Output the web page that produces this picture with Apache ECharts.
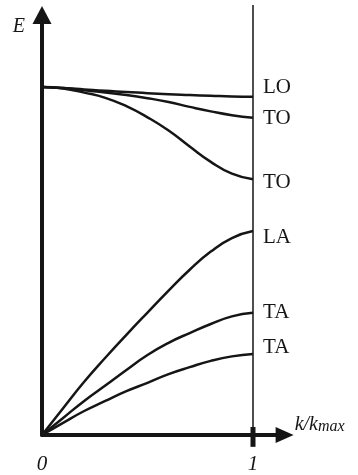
<!DOCTYPE html>
<html>
<head>
<meta charset="utf-8">
<script src="https://cdn.jsdelivr.net/npm/echarts@6/dist/echarts.min.js"></script>
<style>
html,body{margin:0;padding:0;background:#fff;}
#c{width:358px;height:475px;}
</style>
</head>
<body>
<div id="c"></div>
<script>
// k/kmax sample positions
var kValues = [0, 0.1, 0.2, 0.3, 0.4, 0.5, 0.6, 0.7, 0.8, 0.9, 1];
// optical branches (E relative to optical energy at k=0)
var LO  = [1, 0.997, 0.993, 0.989, 0.986, 0.982, 0.979, 0.977, 0.975, 0.973, 0.972];
var TO1 = [1, 0.997, 0.991, 0.984, 0.977, 0.968, 0.957, 0.943, 0.930, 0.919, 0.912];
var TO2 = [1, 0.996, 0.984, 0.969, 0.945, 0.913, 0.875, 0.829, 0.785, 0.751, 0.735];
// acoustic branches
var LA  = [0, 0.077, 0.153, 0.222, 0.288, 0.352, 0.415, 0.475, 0.527, 0.566, 0.586];
var TA1 = [0, 0.049, 0.098, 0.142, 0.187, 0.230, 0.265, 0.293, 0.319, 0.341, 0.351];
var TA2 = [0, 0.035, 0.069, 0.098, 0.126, 0.150, 0.175, 0.195, 0.213, 0.226, 0.233];
var branchNames = ['LO', 'TO', 'TO', 'LA', 'TA', 'TA'];
// zone boundary line and tick
var boundaryK = 1;
var boundaryTop = 1.236;
var tickSpan = [-0.034, 0.023];
var xTickLabels = ['0', '1'];

var branches = [LO, TO1, TO2, LA, TA1, TA2];
var labelDy = [-9, 1, 3, 6, 0, -6];
var serif = '"Liberation Serif", "DejaVu Serif", serif';
var ink = '#151515';

function pairs(ys) {
  return kValues.map(function (k, i) { return [k, ys[i]]; });
}

var series = branches.map(function (ys, i) {
  return {
    type: 'line',
    name: branchNames[i] + i,
    data: pairs(ys),
    smooth: true,
    showSymbol: false,
    symbol: 'none',
    silent: true,
    clip: false,
    lineStyle: { color: ink, width: 2.5 },
    endLabel: {
      show: true,
      formatter: branchNames[i],
      distance: 10,
      offset: [0, labelDy[i]],
      fontFamily: serif,
      fontSize: 21,
      color: ink
    }
  };
});

series.push({
  type: 'line',
  data: [[boundaryK, 0], [boundaryK, boundaryTop]],
  symbol: 'none',
  silent: true,
  clip: false,
  lineStyle: { color: ink, width: 1.5 }
});
series.push({
  type: 'line',
  data: [[boundaryK, tickSpan[0]], [boundaryK, tickSpan[1]]],
  symbol: 'none',
  silent: true,
  clip: false,
  lineStyle: { color: ink, width: 5, cap: 'butt' }
});

var chart = echarts.init(document.getElementById('c'), null, { renderer: 'canvas' });
chart.setOption({
  animation: false,
  backgroundColor: '#fff',
  grid: { left: 42, right: 73.35, top: 15, bottom: 40, containLabel: false },
  xAxis: {
    type: 'value',
    min: 0,
    max: 1.15,
    interval: 1,
    splitLine: { show: false },
    axisTick: { show: false },
    axisLine: {
      show: true,
      onZero: true,
      symbol: ['none', 'triangle'],
      symbolSize: [16, 18],
      lineStyle: { color: ink, width: 4 }
    },
    axisLabel: {
      margin: 19,
      fontFamily: serif,
      fontStyle: 'italic',
      fontSize: 21,
      color: ink,
      showMaxLabel: false,
      formatter: function (v) {
        if (v === 0) return xTickLabels[0];
        if (v === 1) return xTickLabels[1];
        return '';
      }
    },
    name: '{k|k/k}{s|max}',
    nameLocation: 'end',
    nameGap: 10,
    nameTextStyle: {
      verticalAlign: 'bottom',
      align: 'left',
      rich: {
        k: { fontFamily: serif, fontStyle: 'italic', fontSize: 20, lineHeight: 20, color: ink, padding: [0, 0, 5, 0], verticalAlign: 'top' },
        s: { fontFamily: serif, fontStyle: 'italic', fontSize: 16, lineHeight: 16, color: ink, verticalAlign: 'bottom' }
      }
    }
  },
  yAxis: {
    type: 'value',
    min: 0,
    max: 1.207,
    splitLine: { show: false },
    axisTick: { show: false },
    axisLabel: { show: false },
    axisLine: {
      show: true,
      onZero: true,
      symbol: ['none', 'triangle'],
      symbolSize: [19, 18],
      lineStyle: { color: ink, width: 4 }
    },
    name: 'E',
    nameLocation: 'end',
    nameGap: -11.5,
    nameTextStyle: {
      fontFamily: serif,
      fontStyle: 'italic',
      fontSize: 20,
      color: ink,
      align: 'right',
      verticalAlign: 'middle',
      padding: [0, 17, 0, 0]
    }
  },
  series: series
});
</script>
</body>
</html>
